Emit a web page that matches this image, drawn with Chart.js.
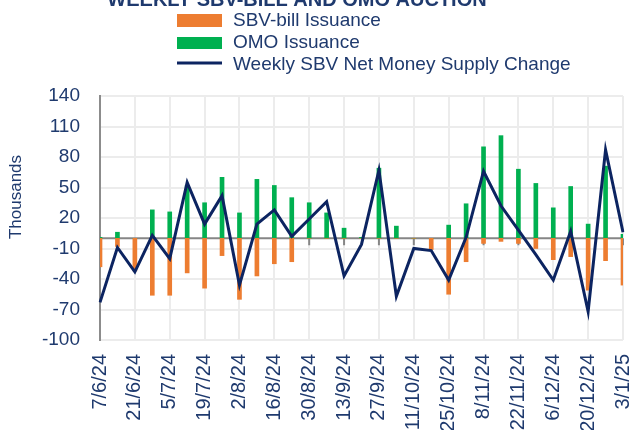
<!DOCTYPE html>
<html lang="en">
<head>
    <meta charset="UTF-8">
    <title>Weekly SBV-bill and OMO Auction</title>
    <script src="https://cdn.jsdelivr.net/npm/chart.js"></script>
    <style>
        html, body { margin: 0; padding: 0; background: #fff; }
        .wrap { width: 634px; height: 436px; position: relative; }
    </style>
</head>
<body>
    <div class="wrap">
        <canvas id="auctionChart"></canvas>
    </div>
    <script>
        // weekly auction dates (Friday)
        const weeks = ['7/6/24', '14/6/24', '21/6/24', '28/6/24', '5/7/24', '12/7/24', '19/7/24', '26/7/24',
            '2/8/24', '9/8/24', '16/8/24', '23/8/24', '30/8/24', '6/9/24', '13/9/24', '20/9/24',
            '27/9/24', '4/10/24', '11/10/24', '18/10/24', '25/10/24', '1/11/24', '8/11/24', '15/11/24',
            '22/11/24', '29/11/24', '6/12/24', '13/12/24', '20/12/24', '27/12/24', '3/1/25'];

        // values in thousands (bn VND)
        const sbvBill = [-28, -8, -32, -56, -56, -34, -49, -17, -60, -37, -25, -23, 0, 0, 0, 0,
            0, 0, 0, -11, -55, -23, -5, -3, -5, -10, -21, -18, -51, -22, -46];
        const omo = [1, 6, 0, 28, 26, 52, 35, 60, 25, 58, 52, 40, 35, 25, 10, 1,
            69, 12, 0, 0, 13, 34, 90, 101, 68, 54, 30, 51, 14, 71, 4];
        const netChange = [-63, -9, -33, 3, -20, 55, 14, 42, -46, 14, 28, 2, 19, 36, -37, -6,
            67, -57, -10, -12, -41, 1, 66, 32, 8, -16, -41, 7, -72, 87, 6];

        const yTicks = [-100, -70, -40, -10, 20, 50, 80, 110, 140];

        const NAVY_TEXT = '#1f3a6e';
        const NAVY_LINE = '#0c2461';
        const ORANGE = '#ED7D31';
        const GREEN = '#00B050';
        const FONT = '"Liberation Sans", Arial, sans-serif';

        // zero line, tick marks, title, legend and axis title
        const decorations = {
            id: 'decorations',
            beforeDatasetsDraw(chart) {
                const { ctx, chartArea, scales } = chart;
                const y0 = scales.y.getPixelForValue(0);
                ctx.save();
                ctx.strokeStyle = '#868686';
                ctx.lineWidth = 2;
                ctx.beginPath();
                ctx.moveTo(chartArea.left, y0);
                ctx.lineTo(chartArea.right, y0);
                weeks.forEach((w, i) => {
                    if (i % 2 === 0 && i > 0) {
                        const x = scales.x.getPixelForValue(i);
                        ctx.moveTo(x, y0);
                        ctx.lineTo(x, y0 + 7);
                    }
                });
                ctx.stroke();
                ctx.restore();
            },
            afterDraw(chart) {
                const ctx = chart.ctx;
                ctx.save();
                // title (cut off at the top like the source)
                ctx.fillStyle = NAVY_TEXT;
                ctx.font = 'bold 20px ' + FONT;
                ctx.textAlign = 'center';
                ctx.textBaseline = 'alphabetic';
                ctx.fillText('WEEKLY SBV-BILL AND OMO AUCTION', 297, 6);

                // legend
                ctx.font = '19px ' + FONT;
                ctx.textAlign = 'left';
                ctx.textBaseline = 'middle';
                ctx.fillStyle = ORANGE;
                ctx.fillRect(177, 14, 45, 13);
                ctx.fillStyle = GREEN;
                ctx.fillRect(177, 37, 45, 12);
                ctx.strokeStyle = NAVY_LINE;
                ctx.lineWidth = 3;
                ctx.beginPath();
                ctx.moveTo(177, 63);
                ctx.lineTo(222, 63);
                ctx.stroke();
                ctx.fillStyle = NAVY_TEXT;
                ctx.fillText('SBV-bill Issuance', 233, 21);
                ctx.fillText('OMO Issuance', 233, 43);
                ctx.fillText('Weekly SBV Net Money Supply Change', 233, 65);

                // y axis title
                ctx.translate(16, 197);
                ctx.rotate(-Math.PI / 2);
                ctx.textAlign = 'center';
                ctx.font = '17px ' + FONT;
                ctx.fillText('Thousands', 0, 0);
                ctx.restore();
            }
        };

        const ctx = document.getElementById('auctionChart').getContext('2d');
        new Chart(ctx, {
            data: {
                labels: weeks,
                datasets: [
                    {
                        type: 'line',
                        label: 'Weekly SBV Net Money Supply Change',
                        data: netChange,
                        borderColor: NAVY_LINE,
                        borderWidth: 3,
                        pointRadius: 0,
                        tension: 0,
                        order: 0
                    },
                    {
                        type: 'bar',
                        label: 'SBV-bill Issuance',
                        data: sbvBill,
                        backgroundColor: ORANGE,
                        barThickness: 4,
                        order: 1
                    },
                    {
                        type: 'bar',
                        label: 'OMO Issuance',
                        data: omo,
                        backgroundColor: GREEN,
                        barThickness: 4,
                        order: 2
                    }
                ]
            },
            options: {
                responsive: true,
                maintainAspectRatio: false,
                animation: false,
                layout: {
                    padding: { top: 96, left: 42, right: 11, bottom: 6 }
                },
                plugins: {
                    legend: { display: false },
                    tooltip: { enabled: false }
                },
                scales: {
                    x: {
                        stacked: true,
                        offset: false,
                        afterFit: (axis) => {
                            axis.height = 90;
                            axis.paddingRight = 0;
                            axis.paddingLeft = 0;
                        },
                        border: { display: false },
                        grid: {
                            offset: false,
                            drawTicks: false,
                            lineWidth: 2,
                            color: (c) => (c.index % 2 === 0 ? '#ececec' : 'rgba(0,0,0,0)')
                        },
                        ticks: {
                            autoSkip: false,
                            maxRotation: 90,
                            minRotation: 90,
                            padding: 14,
                            color: NAVY_TEXT,
                            font: { family: FONT, size: 20 },
                            callback: (v, i) => (i % 2 === 0 ? weeks[i] : '')
                        }
                    },
                    y: {
                        min: -100,
                        max: 140,
                        afterBuildTicks: (axis) => {
                            axis.ticks = yTicks.map(v => ({ value: v }));
                        },
                        afterFit: (axis) => {
                            axis.width = 58;
                            axis.paddingTop = 0;
                            axis.paddingBottom = 0;
                        },
                        border: { display: true, color: '#8c8c8c', width: 2 },
                        grid: { drawTicks: false, lineWidth: 2, color: '#ececec' },
                        ticks: {
                            padding: 20,
                            color: NAVY_TEXT,
                            font: { family: FONT, size: 19 }
                        }
                    }
                }
            },
            plugins: [decorations]
        });
    </script>
</body>
</html>
